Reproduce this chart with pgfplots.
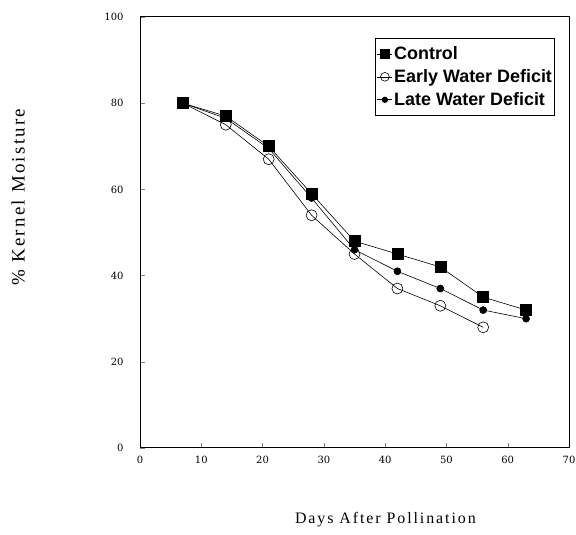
\documentclass[border=0pt]{standalone}
\usepackage{pgfplots}
\pgfplotsset{compat=1.18}
\usepackage{fontspec}
\setmainfont{Liberation Serif}
\newfontfamily\legfont{Liberation Sans}
\newfontfamily\tickfont{DejaVu Serif}
\newfontfamily\xlabfont[LetterSpace=12]{Liberation Serif}
\begin{document}
\begin{tikzpicture}[x=1bp,y=1bp]
\useasboundingbox (0,0) rectangle (576,535);
\begin{axis}[
  at={(140bp,87bp)}, anchor=south west,
  scale only axis, width=429bp, height=431bp,
  xmin=0, xmax=70, ymin=0, ymax=100,
  xtick={0,10,...,70}, ytick={0,20,...,100},
  tick align=inside, tick pos=left,
  major tick length=5bp,
  axis line style={line width=1pt},
  /pgf/number format/assume math mode=true,
  tick label style={font=\tickfont\fontsize{10}{12}\selectfont},
  xticklabel style={yshift=-5bp},
  yticklabel style={xshift=-13bp},
  xlabel={Days After Pollination},
  ylabel={\% Kernel Moisture},
  xlabel style={font=\xlabfont\fontsize{16}{19}\selectfont, at={(axis description cs:0.572,-0.167)}, anchor=center},
  ylabel style={font=\xlabfont\fontsize{19}{22}\selectfont, at={(axis description cs:-0.284,0.582)}, anchor=center},
  legend style={at={(0.548,0.951)}, anchor=north west, draw=black, line width=1pt,
    font=\legfont\bfseries\fontsize{18}{21}\selectfont, inner xsep=1bp, inner ysep=6bp,
    row sep=4.5bp, cells={anchor=west}},
  legend image code/.code={\draw[#1, line width=0.6pt, every mark/.append style={scale=0.8}] (0bp,0bp) -- (15bp,0bp); \draw[#1, every mark/.append style={scale=0.8}] plot coordinates {(8bp,0bp)};},
  every axis plot/.append style={line width=0.6pt},
]
\addplot[black, mark=square*, mark size=5.5bp] coordinates {
(7,80) (14,77) (21,70) (28,59) (35,48) (42,45) (49,42) (56,35) (63,32)};
\addlegendentry{Control}
\addplot[black, mark=o, mark size=5.5bp, mark options={fill=white}] coordinates {
(7,80) (14,75) (21,67) (28,54) (35,45) (42,37) (49,33) (56,28)};
\addlegendentry{Early Water Deficit}
\addplot[black, mark=*, mark size=3.5bp] coordinates {
(7,80) (14,76.5) (21,69.5) (28,58) (35,46) (42,41) (49,37) (56,32) (63,30)};
\addlegendentry{Late Water Deficit}
\end{axis}
\end{tikzpicture}
\end{document}
